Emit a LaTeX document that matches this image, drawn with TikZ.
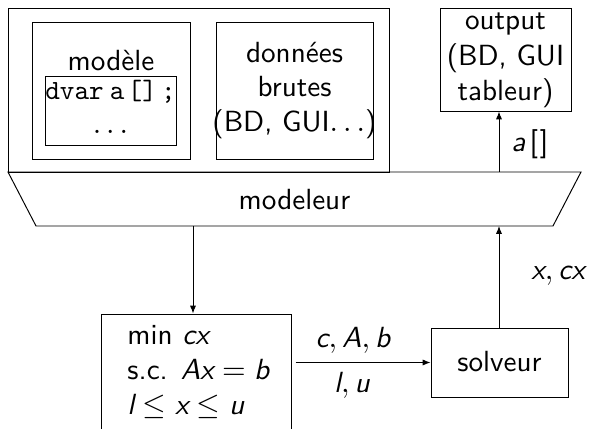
\documentclass[tikz,border=0pt]{standalone}
\usetikzlibrary{arrows.meta,fit}
\newcommand\mi[1]{\mbox{\sffamily\itshape #1}}
\begin{document}
\begin{tikzpicture}[x=0.36pt,y=-0.36pt,
  font=\fontsize{10.5}{12.6}\selectfont\sffamily,
  line width=0.35pt,
  box/.style={draw, inner sep=0pt},
  txt/.style={anchor=base, inner sep=0pt},
  txtl/.style={anchor=base west, inner sep=0pt},
  arr/.style={-{Latex[length=2.8pt,width=2.2pt]}}]
\useasboundingbox (0,0) rectangle (591,429);
% top-left group
\node[box, fit={(8,8) (389,172)}] (outer) {};
\node[box, fit={(32,22) (190,159)}] (modele) {};
\node[box, fit={(45,76) (176,145)}] (code) {};
\node[box, fit={(216,22) (373,159)}] (donnees) {};
\node[txt] (tmod) at (111,71) {modèle};
\node[txt] (tcode) at (110.5,100) {\fontsize{10}{12}\selectfont\ttfamily dvar\kern2.2pt{}a\kern1.2pt{}[]\kern1.5pt{};};
\node[txt] (tdots) at (110.5,134) {$\ldots$};
\node[txt] (td1) at (294.5,63) {données};
\node[txt] (td2) at (294.5,97) {brutes};
\node[txt] (td3) at (294.5,132) {(BD, GUI$\ldots$)};
% modeleur trapezoid
\coordinate (tl) at (8,172);
\coordinate (tr) at (581,172);
\coordinate (br) at (553,226);
\coordinate (bl) at (36,226);
\draw (tl) -- (tr) -- (br) -- (bl) -- cycle;
\node[txt] (modeleur) at (294.5,210) {modeleur};
\coordinate (mTop) at (499,172);
\coordinate (mBotL) at (193,226);
\coordinate (mBotR) at (499,226);
% output
\node[box, fit={(440,8) (571,111)}] (out) {};
\node[txt] (to1) at (505.5,30) {output};
\node[txt] (to2) at (505.5,65.5) {(BD, GUI};
\node[txt] (to3) at (505.5,100.5) {tableur)};
% solveur
\node[box, fit={(431,328) (568,397)}] (solv) {};
\node[txt] (tsolv) at (499.5,372) {solveur};
% LP box
\node[box, fit={(101,314) (291,450)}] (lp) {};
\node[txtl] (lp1) at (127,345) {min $\mi{cx}$};
\node[txtl] (lp2) at (127,380) {s.c. $\mi{Ax} = \mi{b}$};
\node[txtl] (lp3) at (127,415) {$\mi{l} \le \mi{x} \le \mi{u}$};
% connectors
\draw[arr] (mTop) -- (mTop |- out.south);
\draw[arr] (mBotL) -- (mBotL |- lp.north);
\draw[arr] (mBotR |- solv.north) -- (mBotR);
\draw[arr] ([xshift=1.5pt]lp.east |- solv.west) -- (solv.west);
% labels
\node[txtl] (la) at (511,152) {\mi{a}\kern1.5pt[\kern0.6pt]};
\node[txtl] (lx) at (531,280) {$\mi{x}, \mi{cx}$};
\node[txt] (lcab) at (353,348) {$\mi{c}, \mi{A}, \mi{b}$};
\node[txt] (llu) at (352,393) {$\mi{l}, \mi{u}$};
\end{tikzpicture}
\end{document}
